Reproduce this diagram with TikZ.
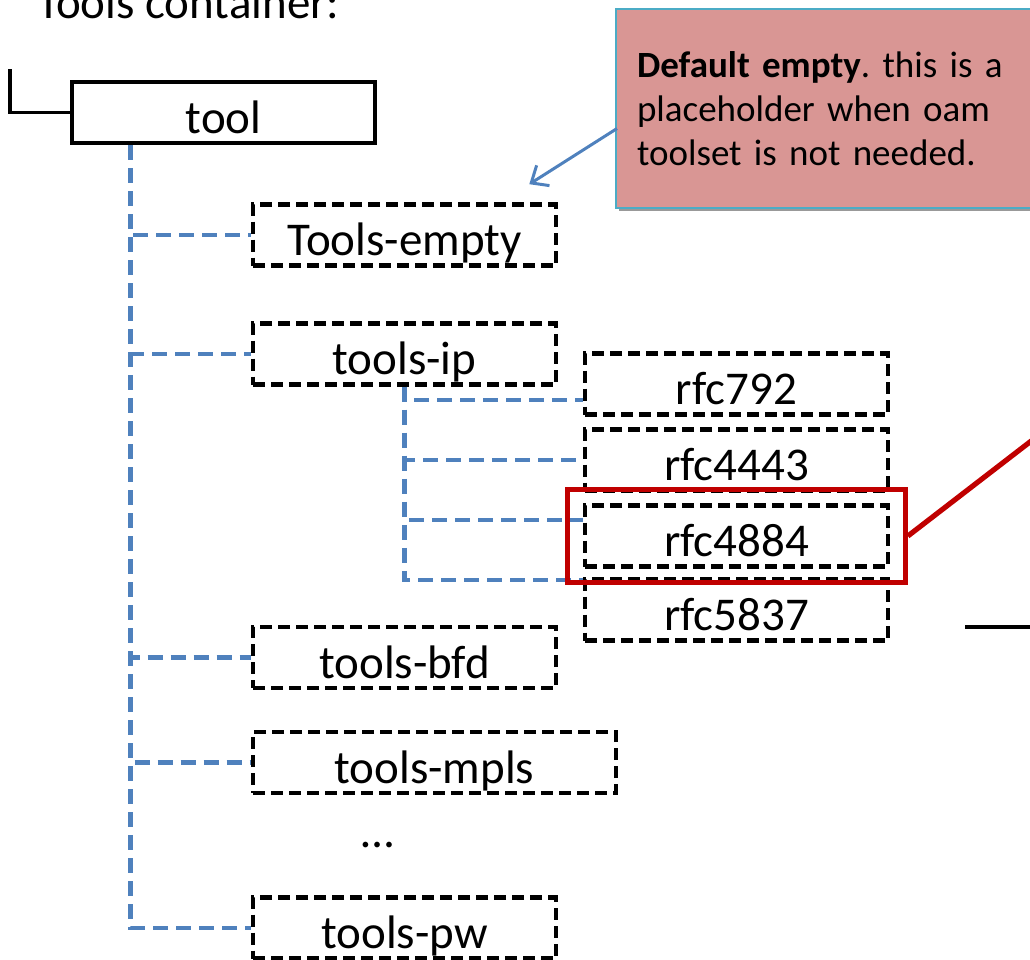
\documentclass[tikz,border=0pt]{standalone}
\usepackage{fontspec}
\setmainfont{Carlito}
\usepackage{tikz}
\usetikzlibrary{positioning,calc,fit,shadows,arrows.meta}
\definecolor{treeblue}{RGB}{79,129,189}
\definecolor{hired}{RGB}{192,0,0}
\definecolor{notefill}{RGB}{217,150,148}
\definecolor{noteborder}{RGB}{75,172,198}

\begin{document}
\begin{tikzpicture}[
    x=0.5pt,
    y=-0.5pt,
    >={Straight Barb[length=7pt,width=12pt,line width=1.5pt]},
    boxfont/.style = {font=\fontsize{23.5pt}{28pt}\selectfont},
    box/.style = {
      draw,
      line width = 2.3pt,
      boxfont,
      minimum width = 151.5pt,
      minimum height = 30.5pt,
      inner ysep = 0pt,
      text height = 25.5pt,
      text depth = 5pt
    },
    leaf/.style = {box, dash pattern = on 6pt off 3pt},
    tree/.style = {draw = treeblue, line width = 2.3pt, dash pattern = on 7.5pt off 4pt},
    hilite/.style = {draw = hired, line width = 2.6pt},
    note/.style = {
      draw = noteborder,
      line width = 1pt,
      fill = notefill,
      anchor = north west,
      minimum height = 99.5pt,
      text width = 194pt,
      inner xsep = 10.5pt,
      align = left,
      font = \fontsize{18.5pt}{22pt}\selectfont,
      drop shadow = {shadow xshift=1.5pt, shadow yshift=-1.5pt, fill=black!40, opacity=1}
    }
  ]
  \clip (0,0) rectangle (1030,960);
  \node[boxfont, anchor=base west, inner sep=0pt] (title) at (37,18) {Tools container:};
  % main boxes
  \node[box] (tool) at (223.5,112.5) {tool\hspace{10pt}};
  \node[leaf] (empty) at (404.5,235) {Tools-empty};
  \node[leaf] (ip) at (404.5,354) {tools-ip};
  \node[leaf] (bfd) at (404.5,657.5) {tools-bfd};
  \node[leaf, minimum width=181.5pt] (mpls) at (434.5,762.5) {tools-mpls};
  \node[boxfont] (more) at (378,845) {…};
  \node[leaf] (pw) at (404.5,928) {tools-pw};
  % rfc list
  \node[leaf] (r792) at (736.5,384) {rfc792};
  \node[leaf] (r4443) at (736.5,460) {rfc4443};
  \node[leaf] (r4884) at (736.5,536) {rfc4884};
  \node[leaf] (r5837) at (736.5,610) {rfc5837};

  \draw[line width=1.8pt] (tool.west) -| ++(-60,-44) coordinate (top);

  \coordinate (trunk) at ($(tool.south west)+(61,0)$);
  \foreach \n in {empty,ip,bfd,mpls,pw}
    \draw[tree] (trunk) |- (\n.west);

  \draw[tree] (ip.south) |- ($(r792.west)+(0,16)$);
  \draw[tree] (ip.south) |- (r4443.west);
  \draw[tree] (ip.south) |- ($(r4884.west)+(0,-16)$);
  \draw[tree] (ip.south) |- ($(r5837.west)+(0,-30)$);

  \node[hilite, fit=(r4884), inner xsep=7.5pt, inner ysep=7pt] (hl) {};
  \draw[hilite] (hl.east) -- ++(157,-121) coordinate (hlend);

  \coordinate (stub) at (965,627);
  \draw[line width=2pt] (stub) -- ++(80,0);

  % callout
  \node[note, minimum width=215pt] (note) at (615,8)
    {\frenchspacing\textbf{Default empty}. this is a\\ placeholder when oam\\ toolset is not needed.};
  \draw[->, treeblue, line width=1.5pt] ($(note.west)+(2,20)$) -- ($(empty.north east)+(-29,-18)$);
\end{tikzpicture}
\end{document}
